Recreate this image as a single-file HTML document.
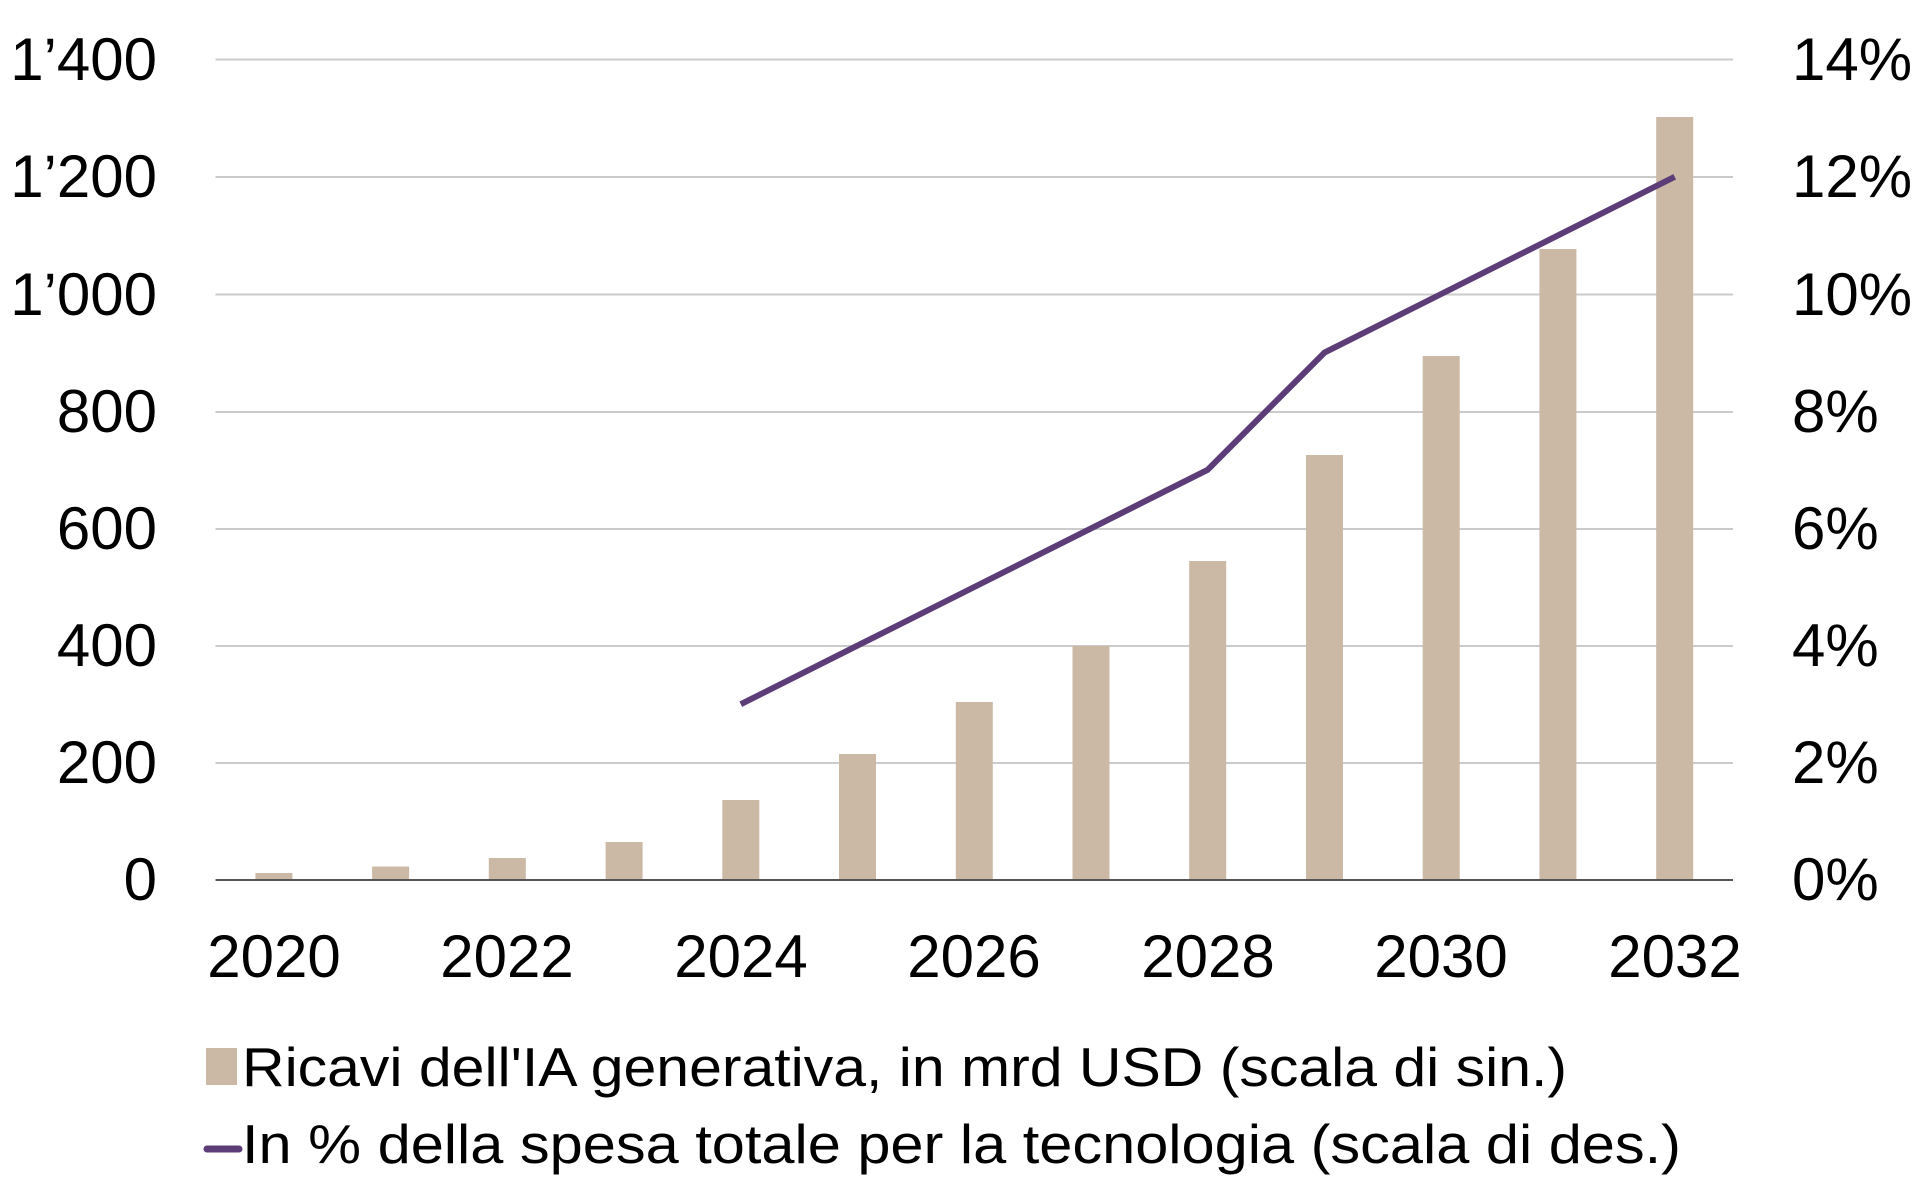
<!DOCTYPE html>
<html><head><meta charset="utf-8"><style>
html,body{margin:0;padding:0;background:#fff;}
svg{display:block;}
text{font-family:"Liberation Sans",sans-serif;fill:#000;}
</style></head><body>
<svg width="1920" height="1200" viewBox="0 0 1920 1200" xmlns="http://www.w3.org/2000/svg">
<g stroke="#cbcbcb" stroke-width="2">
<line x1="215.5" x2="1733" y1="59.5" y2="59.5"/>
<line x1="215.5" x2="1733" y1="177" y2="177"/>
<line x1="215.5" x2="1733" y1="294.5" y2="294.5"/>
<line x1="215.5" x2="1733" y1="412" y2="412"/>
<line x1="215.5" x2="1733" y1="529" y2="529"/>
<line x1="215.5" x2="1733" y1="646" y2="646"/>
<line x1="215.5" x2="1733" y1="763" y2="763"/>
</g>
<g fill="#cbb9a6">
<rect x="255.4" y="873" width="37" height="7"/>
<rect x="372.1" y="866.5" width="37" height="13.5"/>
<rect x="488.8" y="858" width="37" height="22"/>
<rect x="605.6" y="842" width="37" height="38"/>
<rect x="722.3" y="800" width="37" height="80"/>
<rect x="839" y="754" width="37" height="126"/>
<rect x="955.8" y="702" width="37" height="178"/>
<rect x="1072.5" y="646" width="37" height="234"/>
<rect x="1189.2" y="561" width="37" height="319"/>
<rect x="1306" y="455" width="37" height="425"/>
<rect x="1422.7" y="356" width="37" height="524"/>
<rect x="1539.4" y="249" width="37" height="631"/>
<rect x="1656.2" y="117" width="37" height="763"/>
</g>
<line x1="215.5" x2="1733" y1="880" y2="880" stroke="#555" stroke-width="2"/>
<polyline fill="none" stroke="#5c3d78" stroke-width="6" stroke-linejoin="round" points="740.8,704.2 857.5,645.6 974.3,587 1091,528.4 1207.7,469.8 1324.5,352.6 1441.2,294 1557.9,235.4 1674.7,176.8"/>
<g font-size="60" text-anchor="end">
<text x="157" y="80">1’400</text>
<text x="157" y="197">1’200</text>
<text x="157" y="315">1’000</text>
<text x="157" y="432">800</text>
<text x="157" y="549">600</text>
<text x="157" y="666">400</text>
<text x="157" y="783">200</text>
<text x="157" y="900">0</text>
</g>
<g font-size="60">
<text x="1792" y="80">14%</text>
<text x="1792" y="197">12%</text>
<text x="1792" y="315">10%</text>
<text x="1792" y="432">8%</text>
<text x="1792" y="549">6%</text>
<text x="1792" y="666">4%</text>
<text x="1792" y="783">2%</text>
<text x="1792" y="900">0%</text>
</g>
<g font-size="60" text-anchor="middle">
<text x="274" y="977">2020</text>
<text x="507" y="977">2022</text>
<text x="741" y="977">2024</text>
<text x="974" y="977">2026</text>
<text x="1208" y="977">2028</text>
<text x="1441" y="977">2030</text>
<text x="1675" y="977">2032</text>
</g>
<rect x="206" y="1048" width="31" height="37" fill="#cbb9a6"/>
<line x1="207" x2="239" y1="1149" y2="1149" stroke="#5c3d78" stroke-width="7" stroke-linecap="round"/>
<g font-size="55">
<text x="242" y="1086" textLength="1325" lengthAdjust="spacingAndGlyphs">Ricavi dell'IA generativa, in mrd USD (scala di sin.)</text>
<text x="242" y="1163" textLength="1439" lengthAdjust="spacingAndGlyphs">In % della spesa totale per la tecnologia (scala di des.)</text>
</g>
</svg>
</body></html>
